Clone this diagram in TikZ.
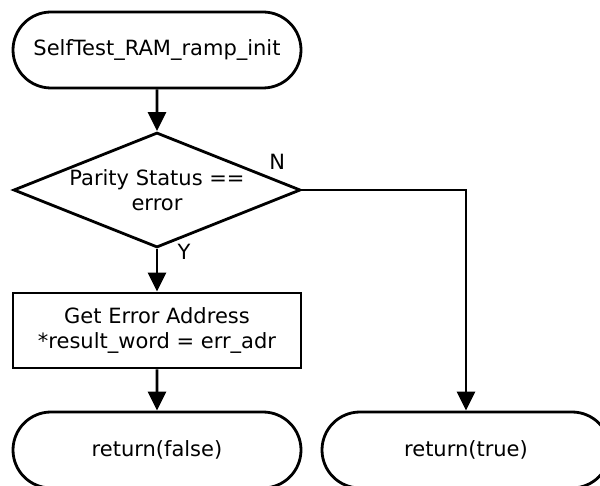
\documentclass[tikz,border=0pt]{standalone}
\usepackage{fontspec}
\setmainfont{DejaVu Sans}
\usepackage{tikz}
\usetikzlibrary{shapes.geometric,shapes.misc,arrows.meta,positioning}

\begin{document}
\begin{tikzpicture}[x=1pt,y=1pt,line width=2.8pt,
		font=\fontsize{21pt}{25.5pt}\selectfont,
		term/.style={rounded rectangle,draw,minimum width=288pt,minimum height=76pt,inner sep=0pt},
		proc/.style={rectangle,draw,minimum width=288pt,minimum height=75pt,inner sep=0pt,align=center},
		decide/.style={diamond,draw,aspect=2.5,inner sep=-12pt,minimum width=287pt,minimum height=115pt,align=center},
		flow/.style={-{Triangle[length=19pt,width=18pt]}}]
				\useasboundingbox (0,0) rectangle (600,485);
				\node[term] (start) at (157,435) {SelfTest\_RAM\_ramp\_init};
				\node[decide] (parity) at (157,295) {Parity Status ==\\error};
				\node[proc] (getadr) at (157,154.5) {Get Error Address\\*result\_word = err\_adr};
				\node[term] (retfalse) at (157,35) {return(false)};
				\node[term] (rettrue) at (466,35) {return(true)};
				\draw[flow] (start) -- (parity);
				\draw[flow] (parity) -- (getadr) node[pos=0.08,right=16pt] {Y};
				\draw[flow] (getadr) -- (retfalse);
				\draw[flow] (parity.east) -| (rettrue.north);
				\path (parity.east) node[above left=16pt and 12pt] {N};
			\end{tikzpicture}
\end{document}
